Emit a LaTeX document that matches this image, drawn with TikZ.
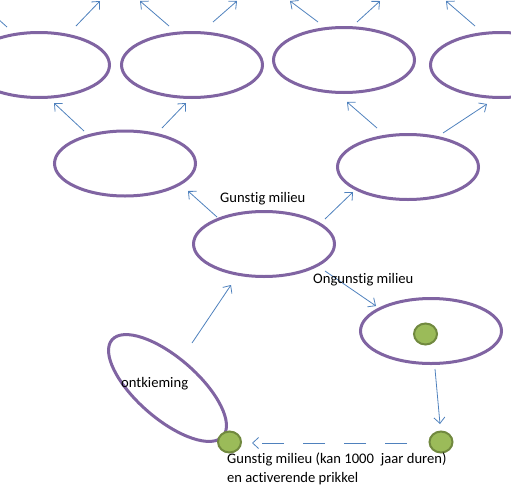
\documentclass[tikz,border=0pt]{standalone}
\usepackage{fontspec}
\setmainfont[Ligatures=NoCommon]{Carlito}
\usetikzlibrary{shapes.geometric,arrows.meta,calc}
\definecolor{purp}{HTML}{8064A2}
\definecolor{arrblue}{HTML}{4F81BD}
\definecolor{dotfill}{HTML}{9BBB59}
\definecolor{dotline}{HTML}{71893F}
\tikzset{
  blob/.style={ellipse, draw=purp, line width=3pt, minimum width=141pt, minimum height=65pt, inner sep=0pt, fill=white},
  seed/.style={ellipse, draw=dotline, fill=dotfill, line width=2pt, minimum width=23pt, minimum height=21pt, inner sep=0pt},
  arr/.style={draw=arrblue, line width=0.8pt, -{Straight Barb[length=6pt,width=11pt,line width=0.8pt]}},
  lbl/.style={font=\fontsize{14.6}{19}\selectfont, inner sep=0pt, anchor=base west}
}
\begin{document}
\begin{tikzpicture}[x=1pt,y=-1pt]
\useasboundingbox (0,0) rectangle (511,490);
\clip (0,0) rectangle (511,490);
% ellipses
\node[blob] (e1) at (39,65) {};
\node[blob] (e2) at (192,65) {};
\node[blob] (e3) at (344,60) {};
\node[blob] (e4) at (501,65) {};
\node[blob] (e5) at (125,163.5) {};
\node[blob] (e6) at (408,167) {};
\node[blob] (e7) at (264,244) {};
\node[blob] (e8) at (431,331) {};
\node[blob, minimum width=147pt, minimum height=61pt, rotate=-41] (e9) at (167.5,388) {};
% seeds
\node[seed] (s0) at (425.5,334) {};
\node[seed] (sl) at (229.5,442) {};
\node[seed] (sr) at (441,442) {};
% arrow ends
\coordinate (t1) at (-22,1);
\coordinate (t2) at (100,1);
\coordinate (t3) at (140,1);
\coordinate (t4) at (237,1);
\coordinate (t5) at (290,1);
\coordinate (t6) at (380,1);
\coordinate (t7) at (446,1);
\coordinate (m1) at (54,103);
\coordinate (m2) at (186,103);
\coordinate (m3) at (347,102);
\coordinate (m4) at (487,104);
\coordinate (c1) at (188,191);
\coordinate (c2) at (353,192);
\coordinate (c3) at (376,306);
\coordinate (c4) at (231,285);
\coordinate (c5) at (440,424);
\coordinate (c6) at (252,443);
% arrows
\draw[arr] ($(e1)+(-32,-38)$) -- (t1);
\draw[arr] ($(e1)+(37,-39)$) -- (t2);
\draw[arr] ($(e2)+(-23,-39)$) -- (t3);
\draw[arr] ($(e2)+(21,-43)$) -- (t4);
\draw[arr] ($(e3)+(-26,-38)$) -- (t5);
\draw[arr] ($(e3)+(13,-38)$) -- (t6);
\draw[arr] ($(e4)+(-26,-39)$) -- (t7);
\draw[arr] ($(e5)+(-41,-32.5)$) -- (m1);
\draw[arr] ($(e5)+(37,-35.5)$) -- (m2);
\draw[arr] ($(e6)+(-31,-39)$) -- (m3);
\draw[arr] ($(e6)+(35,-34)$) -- (m4);
\draw[arr] ($(e7)+(-47,-27)$) -- (c1);
\draw[arr] ($(e7)+(61,-25)$) -- (c2);
\draw[arr] ($(e7)+(61,27)$) -- (c3);
\draw[arr] ($(e9)+(24.5,-45)$) -- (c4);
\draw[arr] ($(e8)+(4,38)$) -- (c5);
\draw[arr, dash pattern=on 22pt off 19pt] ($(sr)+(-34,1)$) -- (c6);
% labels
\node[lbl] (g1) at (220,202) {Gunstig milieu};
\node[lbl] (g2) at (313,283) {Ongunstig milieu};
\node[lbl] (g3) at (121,387) {ontkieming};
\node[lbl] (g4) at (227,463) {Gunstig milieu (kan 1000\hspace{0.25em} jaar duren)};
\node[lbl] (g5) at (227,482) {en activerende prikkel};
\end{tikzpicture}
\end{document}
